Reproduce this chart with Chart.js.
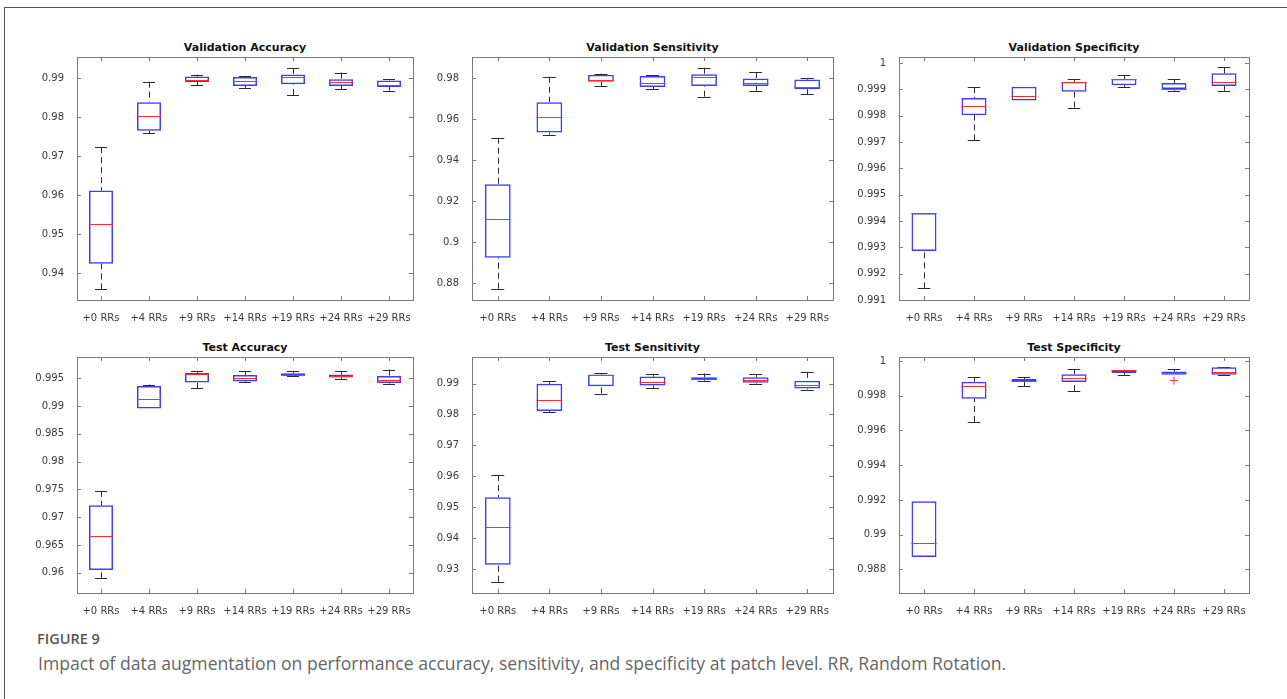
<!DOCTYPE html>
<html>
<head>
<meta charset="utf-8">
<script src="https://cdn.jsdelivr.net/npm/chart.js@4.4.1/dist/chart.umd.min.js"></script>
<style>
  html, body { margin: 0; padding: 0; background: #fff; }
  body { width: 1287px; height: 699px; position: relative; overflow: hidden; font-family: 'DejaVu Sans', sans-serif; }
  .frame { position: absolute; left: 4px; top: 7px; right: -2px; bottom: -2px; border-top: 1px solid #555; border-left: 1px solid #555; }
  .panel { position: absolute; }
  .ptitle { position: absolute; font: bold 11px 'DejaVu Sans', sans-serif; color: #111; text-align: center; white-space: nowrap; }
  .fig-no { position: absolute; left: 37px; top: 629px; font: 600 14.5px 'Open Sans', sans-serif; color: #555; line-height: 1.362; }
  .fig-cap { position: absolute; left: 38px; top: 652px; font: 17.6px 'Open Sans', sans-serif; color: #666; white-space: nowrap; line-height: 1.362; }
</style>
</head>
<body>
<div class="frame"></div>
<div id="panels"></div>
<div class="fig-no">FIGURE 9</div>
<div class="fig-cap">Impact of data augmentation on performance accuracy, sensitivity, and specificity at patch level. RR, Random Rotation.</div>

<script>
/* ─── Data ─── */
const categories = ['+0 RRs', '+4 RRs', '+9 RRs', '+14 RRs', '+19 RRs', '+24 RRs', '+29 RRs'];

// Validation Accuracy
const valAccLow  = [0.9359, 0.9759, 0.9882, 0.9875, 0.9857, 0.9871, 0.9868];
const valAccQ1   = [0.9425, 0.9765, 0.9890, 0.9880, 0.9884, 0.9880, 0.9877];
const valAccMed  = [0.9527, 0.9803, 0.9896, 0.9892, 0.9903, 0.9889, 0.9882];
const valAccQ3   = [0.9612, 0.9838, 0.9904, 0.9903, 0.9909, 0.9897, 0.9894];
const valAccHigh = [0.9723, 0.9891, 0.9909, 0.9906, 0.9926, 0.9914, 0.9898];
const valAccTicks = [0.94, 0.95, 0.96, 0.97, 0.98, 0.99];

// Validation Sensitivity
const valSenLow  = [0.8774, 0.9524, 0.9761, 0.9745, 0.9709, 0.9738, 0.9722];
const valSenQ1   = [0.8925, 0.9534, 0.9782, 0.9756, 0.9761, 0.9761, 0.9745];
const valSenMed  = [0.9112, 0.9612, 0.9789, 0.9777, 0.9803, 0.9776, 0.9756];
const valSenQ3   = [0.9282, 0.9682, 0.9815, 0.9810, 0.9818, 0.9797, 0.9792];
const valSenHigh = [0.9509, 0.9806, 0.9821, 0.9815, 0.9850, 0.9829, 0.9798];
const valSenTicks = [0.88, 0.9, 0.92, 0.94, 0.96, 0.98];

// Validation Specificity
const valSpeLow  = [0.99144, 0.99706, 0.99858, 0.99831, 0.99909, 0.99895, 0.99895];
const valSpeQ1   = [0.99286, 0.99802, 0.99858, 0.99891, 0.99916, 0.99901, 0.99913];
const valSpeMed  = [0.99430, 0.99835, 0.99875, 0.99929, 0.99940, 0.99901, 0.99928];
const valSpeQ3   = [0.99430, 0.99867, 0.99910, 0.99929, 0.99940, 0.99924, 0.99961];
const valSpeHigh = [0.99430, 0.99909, 0.99910, 0.99939, 0.99956, 0.99939, 0.99984];
const valSpeTicks = [0.991, 0.992, 0.993, 0.994, 0.995, 0.996, 0.997, 0.998, 0.999, 1];

// Test Accuracy
const tstAccLow  = [0.95898, 0.98956, 0.99321, 0.99428, 0.99536, 0.99482, 0.99404];
const tstAccQ1   = [0.96048, 0.98956, 0.99422, 0.99440, 0.99548, 0.99512, 0.99416];
const tstAccMed  = [0.96670, 0.99135, 0.99572, 0.99500, 0.99566, 0.99542, 0.99470];
const tstAccQ3   = [0.97214, 0.99362, 0.99596, 0.99560, 0.99590, 0.99566, 0.99542];
const tstAccHigh = [0.97472, 0.99386, 0.99632, 0.99626, 0.99632, 0.99626, 0.99656];
const tstAccTicks = [0.96, 0.965, 0.97, 0.975, 0.98, 0.985, 0.99, 0.995];

// Test Sensitivity
const tstSenLow  = [0.92591, 0.98065, 0.98677, 0.98849, 0.99086, 0.99000, 0.98806];
const tstSenQ1   = [0.93140, 0.98108, 0.98914, 0.98935, 0.99108, 0.99022, 0.98839];
const tstSenMed  = [0.94355, 0.98473, 0.99280, 0.99043, 0.99150, 0.99118, 0.98968];
const tstSenQ3   = [0.95323, 0.98989, 0.99290, 0.99226, 0.99204, 0.99204, 0.99086];
const tstSenHigh = [0.96043, 0.99086, 0.99344, 0.99323, 0.99323, 0.99301, 0.99376];
const tstSenTicks = [0.93, 0.94, 0.95, 0.96, 0.97, 0.98, 0.99];

// Test Specificity
const tstSpeLow  = [0.98871, 0.99649, 0.99856, 0.99827, 0.99921, 0.99921, 0.99918];
const tstSpeQ1   = [0.98871, 0.99783, 0.99879, 0.99879, 0.99931, 0.99921, 0.99921];
const tstSpeMed  = [0.98951, 0.99856, 0.99887, 0.99900, 0.99946, 0.99929, 0.99939];
const tstSpeQ3   = [0.99193, 0.99881, 0.99896, 0.99923, 0.99948, 0.99939, 0.99964];
const tstSpeHigh = [0.99193, 0.99906, 0.99908, 0.99952, 0.99950, 0.99952, 0.99965];
const tstSpeTicks = [0.988, 0.99, 0.992, 0.994, 0.996, 0.998, 1];
const tstSpeOutCat = [5];
const tstSpeOutVal = [0.99887];

/* ─── Panel layout (plot rectangles in page px) ─── */
const panels = [
  { title: 'Validation Accuracy',    L: 77,  T: 57,  R: 413,  B: 300, min: 0.9332,  max: 0.9954,  ticks: valAccTicks,
    low: valAccLow, q1: valAccQ1, med: valAccMed, q3: valAccQ3, high: valAccHigh, outCat: [], outVal: [] },
  { title: 'Validation Sensitivity', L: 472, T: 57,  R: 833,  B: 300, min: 0.8719,  max: 0.9902,  ticks: valSenTicks,
    low: valSenLow, q1: valSenQ1, med: valSenMed, q3: valSenQ3, high: valSenHigh, outCat: [], outVal: [] },
  { title: 'Validation Specificity', L: 899, T: 57,  R: 1249, B: 300, min: 0.991,   max: 1.00023, ticks: valSpeTicks,
    low: valSpeLow, q1: valSpeQ1, med: valSpeMed, q3: valSpeQ3, high: valSpeHigh, outCat: [], outVal: [] },
  { title: 'Test Accuracy',          L: 77,  T: 357, R: 413,  B: 593, min: 0.95636, max: 0.99882, ticks: tstAccTicks,
    low: tstAccLow, q1: tstAccQ1, med: tstAccMed, q3: tstAccQ3, high: tstAccHigh, outCat: [], outVal: [] },
  { title: 'Test Sensitivity',       L: 472, T: 357, R: 833,  B: 593, min: 0.92226, max: 0.99858, ticks: tstSenTicks,
    low: tstSenLow, q1: tstSenQ1, med: tstSenMed, q3: tstSenQ3, high: tstSenHigh, outCat: [], outVal: [] },
  { title: 'Test Specificity',       L: 899, T: 357, R: 1249, B: 593, min: 0.98664, max: 1.00023, ticks: tstSpeTicks,
    low: tstSpeLow, q1: tstSpeQ1, med: tstSpeMed, q3: tstSpeQ3, high: tstSpeHigh, outCat: tstSpeOutCat, outVal: tstSpeOutVal },
];

const Y_AXIS_W = 50;
const X_AXIS_H = 22;
const PAD_TOP = 14;   // larger than the half-height of the top tick label, so Chart.js keeps it as is
const PAD_RIGHT = 10;

const BOX_BLUE = 'rgb(60,60,255)';
const MED_RED  = 'rgb(255,45,45)';
const WHISKER  = '#2a2a2a';
const AXIS_GRAY = '#7a7a7a';
const TICK_TEXT = '#3a3a3a';

Chart.defaults.font.family = "'DejaVu Sans', sans-serif";

const crisp = v => Math.round(v) + 0.5;

function hline(ctx, x1, x2, y) { ctx.beginPath(); ctx.moveTo(x1, crisp(y)); ctx.lineTo(x2, crisp(y)); ctx.stroke(); }
function vline(ctx, x, y1, y2) { ctx.beginPath(); ctx.moveTo(crisp(x), y1); ctx.lineTo(crisp(x), y2); ctx.stroke(); }

/* whiskers under the boxes, medians + frame on top */
function makeBoxPlugin(p) {
  return {
    id: 'boxWhisk',
    beforeDatasetsDraw(chart) {
      const { ctx, scales: { x, y } } = chart;
      const band = x.getPixelForValue(1) - x.getPixelForValue(0);
      const capHalf = band * 0.125;
      ctx.save();
      ctx.strokeStyle = WHISKER;
      ctx.lineWidth = 1;
      categories.forEach((_, i) => {
        const cx = x.getPixelForValue(i);
        if (p.high[i] > p.q3[i]) {
          ctx.setLineDash([6, 4]);
          vline(ctx, cx, y.getPixelForValue(p.high[i]), y.getPixelForValue(p.q3[i]));
          ctx.setLineDash([]);
          hline(ctx, cx - capHalf, cx + capHalf, y.getPixelForValue(p.high[i]));
        }
        if (p.low[i] < p.q1[i]) {
          ctx.setLineDash([6, 4]);
          vline(ctx, cx, y.getPixelForValue(p.low[i]), y.getPixelForValue(p.q1[i]));
          ctx.setLineDash([]);
          hline(ctx, cx - capHalf, cx + capHalf, y.getPixelForValue(p.low[i]));
        }
      });
      ctx.restore();
    },
    afterDatasetsDraw(chart) {
      const { ctx, scales: { x, y } } = chart;
      const band = x.getPixelForValue(1) - x.getPixelForValue(0);
      const boxHalf = band * 0.25;
      ctx.save();
      ctx.strokeStyle = MED_RED;
      ctx.lineWidth = 1;
      categories.forEach((_, i) => {
        const cx = x.getPixelForValue(i);
        hline(ctx, cx - boxHalf, cx + boxHalf, y.getPixelForValue(p.med[i]));
      });
      ctx.restore();
    },
    afterDraw(chart) {
      const { ctx, chartArea: a, scales: { x, y } } = chart;
      const tl = 4;
      ctx.save();
      ctx.strokeStyle = AXIS_GRAY;
      ctx.lineWidth = 1;
      ctx.strokeRect(crisp(a.left), crisp(a.top), Math.round(a.right - a.left), Math.round(a.bottom - a.top));
      p.ticks.forEach(v => {
        const py = y.getPixelForValue(v);
        hline(ctx, a.left, a.left + tl, py);
        hline(ctx, a.right - tl, a.right, py);
      });
      categories.forEach((_, i) => {
        const px = x.getPixelForValue(i);
        vline(ctx, px, a.top, a.top + tl);
        vline(ctx, px, a.bottom - tl, a.bottom);
      });
      ctx.restore();
    },
  };
}

/* ─── Build panels ─── */
const host = document.getElementById('panels');

panels.forEach((p, k) => {
  const w = (p.R - p.L) + Y_AXIS_W + PAD_RIGHT;
  const h = (p.B - p.T) + PAD_TOP + X_AXIS_H;

  const title = document.createElement('div');
  title.className = 'ptitle';
  title.textContent = p.title;
  title.style.left = p.L + 'px';
  title.style.width = (p.R - p.L) + 'px';
  title.style.top = (p.T - 16) + 'px';
  host.appendChild(title);

  const wrap = document.createElement('div');
  wrap.className = 'panel';
  wrap.style.left = (p.L - Y_AXIS_W) + 'px';
  wrap.style.top = (p.T - PAD_TOP) + 'px';
  const cv = document.createElement('canvas');
  cv.id = 'chart' + k;
  cv.width = w;
  cv.height = h;
  wrap.appendChild(cv);
  host.appendChild(wrap);

  new Chart(cv.getContext('2d'), {
    type: 'bar',
    data: {
      labels: categories,
      datasets: [
        {
          type: 'bar',
          data: p.q1.map((v, i) => [v, p.q3[i]]),
          backgroundColor: 'rgba(0,0,0,0)',
          borderColor: BOX_BLUE,
          borderWidth: 1.5,
          borderSkipped: false,
          categoryPercentage: 1,
          barPercentage: 0.5,
        },
        {
          type: 'scatter',
          data: p.outCat.map((c, i) => ({ x: categories[c], y: p.outVal[i] })),
          pointStyle: 'cross',
          pointRadius: 4,
          borderColor: MED_RED,
          borderWidth: 1,
        },
      ],
    },
    options: {
      responsive: false,
      animation: false,
      events: [],
      layout: { padding: { top: PAD_TOP, right: PAD_RIGHT, left: 0, bottom: 0 } },
      plugins: { legend: { display: false }, tooltip: { enabled: false }, title: { display: false } },
      scales: {
        x: {
          type: 'category',
          offset: true,
          grid: { display: false },
          border: { display: false },
          ticks: { color: TICK_TEXT, font: { size: 10 }, padding: 4, maxRotation: 0, autoSkip: false },
          afterFit: sc => { sc.height = X_AXIS_H; },
        },
        y: {
          type: 'linear',
          min: p.min,
          max: p.max,
          grid: { display: false },
          border: { display: false },
          ticks: {
            color: TICK_TEXT,
            font: { size: 10 },
            padding: 5,
            callback: v => String(parseFloat(Number(v).toFixed(6))),
          },
          afterBuildTicks: sc => { sc.ticks = p.ticks.map(v => ({ value: v })); },
          afterFit: sc => { sc.width = Y_AXIS_W; },
        },
      },
    },
    plugins: [makeBoxPlugin(p)],
  });
});
</script>
</body>
</html>
